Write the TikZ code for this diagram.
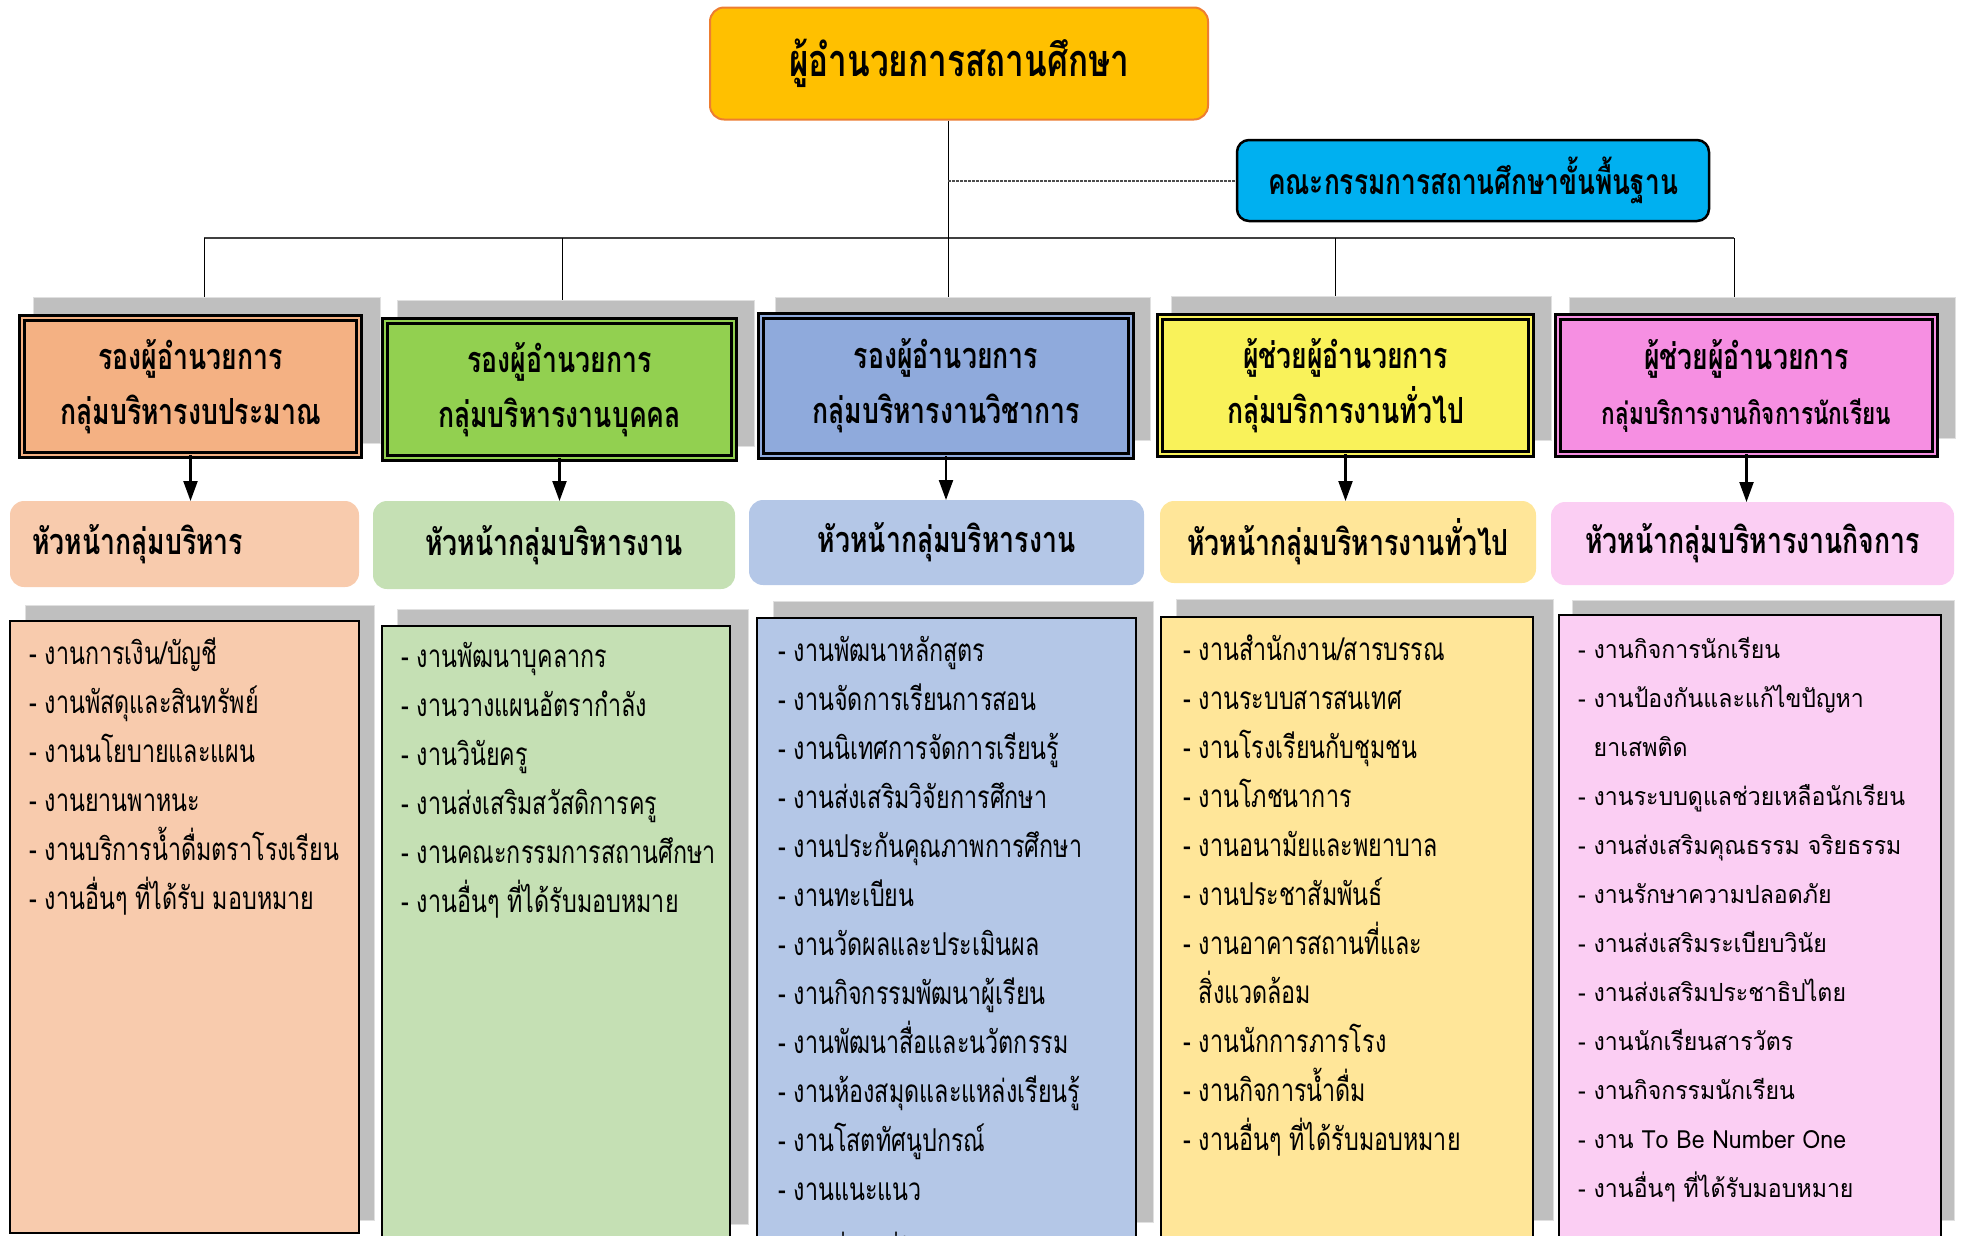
\documentclass[tikz,border=0pt]{standalone}
\usepackage{fontspec}
\usepackage{xcolor}
\usetikzlibrary{arrows.meta}

\newfontfamily\thaifont[Script=Thai,FakeStretch=0.925]{Loma}
\newfontfamily\thaicond[Script=Thai,FakeStretch=0.74]{Loma}
\newcommand\listfont{\thaicond\fontsize{31.5}{49}\selectfont}
\newcommand\pinkfont{\thaifont\fontsize{25}{49}\selectfont}
\newcommand\headfont{\thaicond\bfseries\fontsize{36}{55}\selectfont}

\definecolor{topfill}{HTML}{FFC000}
\definecolor{topline}{HTML}{ED7D31}
\definecolor{cmfill}{HTML}{00B0F0}
\definecolor{shadowgray}{HTML}{BFBFBF}
\definecolor{hA}{HTML}{F4B183}
\definecolor{sA}{HTML}{F8CBAD}
\definecolor{hB}{HTML}{92D050}
\definecolor{sB}{HTML}{C5E0B4}
\definecolor{hC}{HTML}{8FAADC}
\definecolor{sC}{HTML}{B4C7E7}
\definecolor{hD}{HTML}{F9F25A}
\definecolor{sD}{HTML}{FFE699}
\definecolor{hE}{HTML}{F68FE2}
\definecolor{sE}{HTML}{FBCEF3}

\begin{document}
\begin{tikzpicture}[x=1pt,y=-1pt,
  shade/.style={fill=shadowgray,draw=black!12,line width=1pt,inner sep=0pt,outer sep=0pt},
  headbox/.style={draw=black,line width=2.8pt,double distance=2.6pt,inner sep=0pt,outer sep=0pt,align=center,font=\headfont},
  subbox/.style={rounded corners=14pt,inner sep=0pt,outer sep=0pt,align=center,font=\headfont},
  listbox/.style={draw=black,line width=1.8pt,inner sep=0pt,outer sep=0pt},
  arr/.style={line width=2.2pt,-{Triangle[length=20pt,width=14pt]}},
  link/.style={line width=1.2pt,black!75},
  item/.style={anchor=base west,inner sep=0pt,font=\listfont}]
  \useasboundingbox (0,0) rectangle (1961,1235);
  \clip (0,0) rectangle (1961,1235);

  \node[fill=topfill,draw=topline,line width=2pt,rounded corners=14pt,minimum width=498pt,minimum height=112pt,
        font=\thaicond\bfseries\fontsize{45}{48}\selectfont] (top) at (959,63.5) {ผู้อำนวยการสถานศึกษา};
  \node[fill=cmfill,draw=black,line width=2.5pt,rounded corners=12pt,minimum width=472pt,minimum height=81pt,
        font=\thaicond\bfseries\fontsize{35.5}{40}\selectfont] (cm) at (1473,180.5) {คณะกรรมการสถานศึกษาขั้นพื้นฐาน};

  % shadows
  \node[shade,minimum width=347pt,minimum height=146pt] (shA) at (206.5,370) {};
  \node[shade,minimum width=357pt,minimum height=146pt] (shB) at (575.5,373) {};
  \node[shade,minimum width=375pt,minimum height=143pt] (shC) at (962.5,368.5) {};
  \node[shade,minimum width=380pt,minimum height=144pt] (shD) at (1361,368) {};
  \node[shade,minimum width=386pt,minimum height=141pt] (shE) at (1762,367.5) {};

  \node[shade,minimum width=349pt,minimum height=615pt] (lsA) at (199.5,912.5) {};
  \node[shade,minimum width=351pt,minimum height=615pt] (lsB) at (572.5,916.5) {};
  \node[shade,minimum width=380pt,minimum height=621pt] (lsC) at (963,911.5) {};
  \node[shade,minimum width=377pt,minimum height=621pt] (lsD) at (1364.5,909.5) {};
  \node[shade,minimum width=382pt,minimum height=620pt] (lsE) at (1763,910) {};

  % bus
  \coordinate (dA) at (204,238);
  \coordinate (dB) at (562,238);
  \coordinate (dC) at (948,238);
  \coordinate (dD) at (1335,238);
  \coordinate (dE) at (1734,238);
  \draw[link] (dA) -- (dE);
  \draw[link,line width=1pt,black] (top.south -| dC) -- (dC) -- (dC |- shC.north);
  \draw[line width=2pt,black!70,dash pattern=on 2.5pt off 1.5pt] (cm.west -| dC) -- (cm.west);
  \foreach \k in {A,B,D,E}
    \draw[line width=1pt] (d\k) -- (d\k |- sh\k.north);

  % group heads
  \node[headbox,fill=hA,double=hA,minimum width=337pt,minimum height=137pt] (hA) at (190.5,386.5) {รองผู้อำนวยการ\\กลุ่มบริหารงบประมาณ};
  \node[headbox,fill=hB,double=hB,minimum width=349pt,minimum height=137pt] (hB) at (559.5,389.5) {รองผู้อำนวยการ\\กลุ่มบริหารงานบุคคล};
  \node[headbox,fill=hC,double=hC,minimum width=370pt,minimum height=140pt] (hC) at (946,386) {รองผู้อำนวยการ\\กลุ่มบริหารงานวิชาการ};
  \node[headbox,fill=hD,double=hD,minimum width=371pt,minimum height=137pt] (hD) at (1345.5,385.5) {ผู้ช่วยผู้อำนวยการ\\กลุ่มบริการงานทั่วไป};
  \node[headbox,fill=hE,double=hE,minimum width=377pt,minimum height=137pt] (hE) at (1746.5,385.5)
    {ผู้ช่วยผู้อำนวยการ\\{\thaicond\bfseries\fontsize{30.5}{55}\selectfont กลุ่มบริการงานกิจการนักเรียน}};

  % sub heads
  \node[subbox,fill=sA,minimum width=349pt,minimum height=86pt,text width=305pt,align=left] (sA) at (184.5,544) {หัวหน้ากลุ่มบริหาร};
  \node[subbox,fill=sB,minimum width=362pt,minimum height=88pt] (sB) at (554,545) {หัวหน้ากลุ่มบริหารงาน};
  \node[subbox,fill=sC,minimum width=395pt,minimum height=85pt] (sC) at (946.5,542.5) {หัวหน้ากลุ่มบริหารงาน};
  \node[subbox,fill=sD,minimum width=376pt,minimum height=82pt] (sD) at (1348,542) {หัวหน้ากลุ่มบริหารงานทั่วไป};
  \node[subbox,fill=sE,minimum width=403pt,minimum height=83pt] (sE) at (1752.5,543.5) {หัวหน้ากลุ่มบริหารงานกิจการ};

  \foreach \k in {A,B,C,D,E}
    \draw[arr] (h\k.south) -- (h\k.south |- s\k.north);

  % task lists
  \node[listbox,fill=sA,minimum width=349pt,minimum height=612pt] (lA) at (184.5,927) {};
  \node[listbox,fill=sB,minimum width=348pt,minimum height=640pt] (lB) at (556,946) {};
  \node[listbox,fill=sC,minimum width=379pt,minimum height=640pt] (lC) at (946.5,938) {};
  \node[listbox,fill=sD,minimum width=372pt,minimum height=640pt] (lD) at (1347,937) {};
  \node[listbox,fill=sE,minimum width=382pt,minimum height=640pt] (lE) at (1750,935) {};

  \foreach \t [count=\i] in {- งานการเงิน/บัญชี, - งานพัสดุและสินทรัพย์, - งานนโยบายและแผน, - งานยานพาหนะ,
      - งานบริการน้ำดื่มตราโรงเรียน, - งานอื่นๆ ที่ได้รับ มอบหมาย}
    \node[item] (tA\i) at (29,{664+49*(\i-1)}) {\t};
  \foreach \t [count=\i] in {- งานพัฒนาบุคลากร, - งานวางแผนอัตรากำลัง, - งานวินัยครู, - งานส่งเสริมสวัสดิการครู,
      - งานคณะกรรมการสถานศึกษา, - งานอื่นๆ ที่ได้รับมอบหมาย}
    \node[item] (tB\i) at (401,{667+49*(\i-1)}) {\t};
  \foreach \t [count=\i] in {- งานพัฒนาหลักสูตร, - งานจัดการเรียนการสอน, - งานนิเทศการจัดการเรียนรู้,
      - งานส่งเสริมวิจัยการศึกษา, - งานประกันคุณภาพการศึกษา, - งานทะเบียน, - งานวัดผลและประเมินผล,
      - งานกิจกรรมพัฒนาผู้เรียน, - งานพัฒนาสื่อและนวัตกรรม, - งานห้องสมุดและแหล่งเรียนรู้,
      - งานโสตทัศนูปกรณ์, - งานแนะแนว}
    \node[item] (tC\i) at (778,{661+49*(\i-1)}) {\t};
  \node[item] (tC13) at (778,1264) {- งานอื่นๆ ที่ได้รับมอบหมาย};
  \foreach \t [count=\i] in {- งานสำนักงาน/สารบรรณ, - งานระบบสารสนเทศ, - งานโรงเรียนกับชุมชน, - งานโภชนาการ,
      - งานอนามัยและพยาบาล, - งานประชาสัมพันธ์, - งานอาคารสถานที่และ, \phantom{- }สิ่งแวดล้อม,
      - งานนักการภารโรง, - งานกิจการน้ำดื่ม, - งานอื่นๆ ที่ได้รับมอบหมาย}
    \node[item] (tD\i) at (1183,{660+49*(\i-1)}) {\t};
  \foreach \t [count=\i] in {- งานกิจการนักเรียน, - งานป้องกันและแก้ไขปัญหา, \phantom{- }ยาเสพติด,
      - งานระบบดูแลช่วยเหลือนักเรียน, - งานส่งเสริมคุณธรรม จริยธรรม, - งานรักษาความปลอดภัย,
      - งานส่งเสริมระเบียบวินัย, - งานส่งเสริมประชาธิปไตย, - งานนักเรียนสารวัตร, - งานกิจกรรมนักเรียน,
      - งาน To Be Number One, - งานอื่นๆ ที่ได้รับมอบหมาย}
    \node[item,font=\pinkfont] (tE\i) at (1578,{658+49*(\i-1)}) {\t};
\end{tikzpicture}
\end{document}
